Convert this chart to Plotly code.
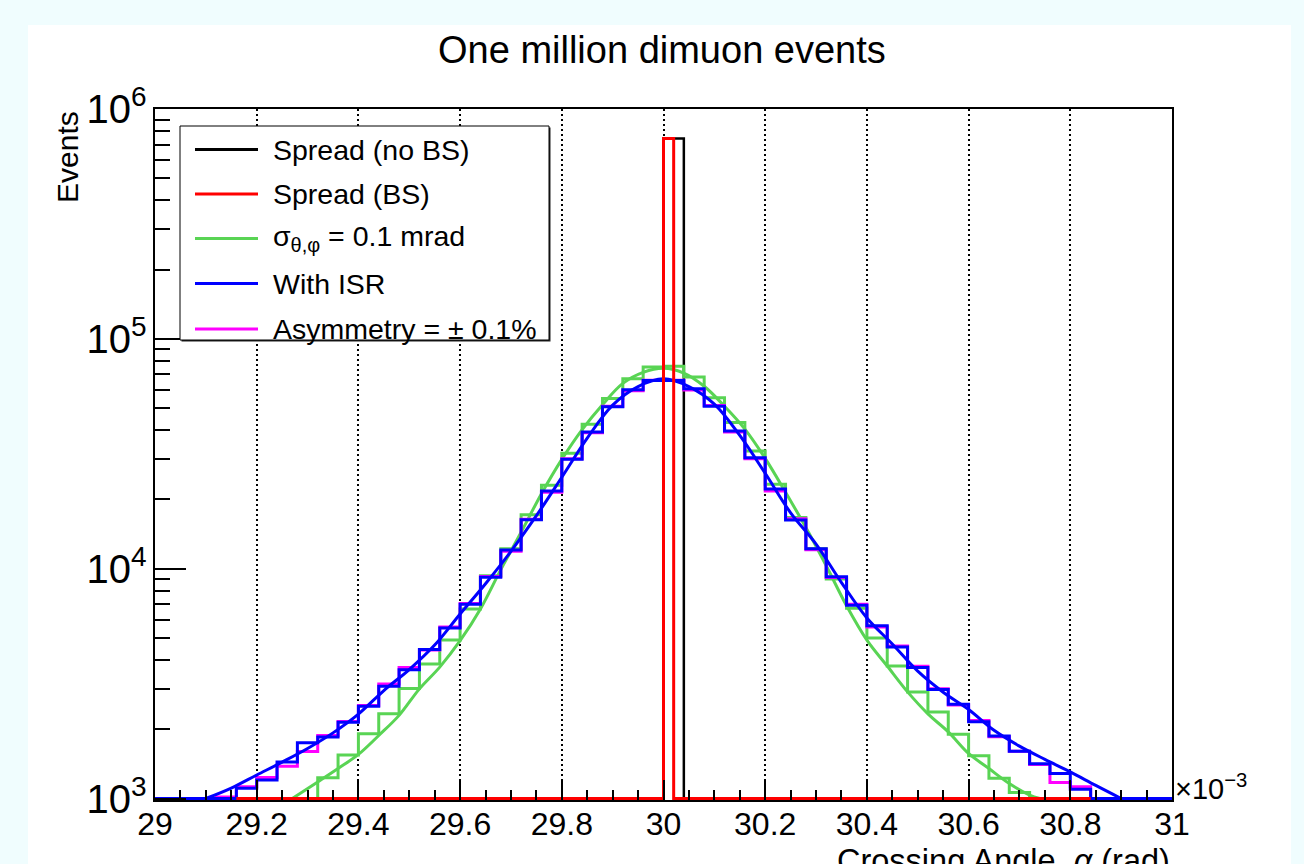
import plotly.graph_objects as go
import math

# ---------------- data ----------------
# 50 bins of 0.04 (x10^-3 rad) from 29.00 to 31.00
bin_edges = [round(29.0 + 0.04 * i, 2) for i in range(51)]

black_counts = [0] * 25 + [745000] + [0] * 24          # Spread (no BS)

# Spread (BS): finer 0.02 binning from 29.16 to 30.84
red_edges = [round(29.16 + 0.02 * i, 2) for i in range(85)]
red_counts = [0] * 42 + [745000] + [0] * 41

green_counts = [0, 0, 0, 0, 0, 0, 0, 0, 1230, 1545,
                1915, 2340, 3010, 3850, 4890, 6670, 9320, 12200, 17150, 23040,
                31800, 42500, 55000, 67000, 75400, 75900, 68300, 55400, 43200, 32500,
                23300, 16700, 12200, 9010, 6730, 4990, 3770, 2905, 2380, 1903,
                1533, 1224, 1061, 0, 0, 0, 0, 0, 0, 0]

blue_counts = [0, 0, 0, 0, 1107, 1205, 1440, 1750, 1850, 2145,
               2520, 3080, 3630, 4450, 5520, 7000, 9170, 12050, 16320, 21780,
               29900, 39300, 50600, 60100, 65900, 65900, 60600, 50900, 39700, 30400,
               22200, 16300, 12200, 9230, 6930, 5650, 4560, 3720, 2980, 2570,
               2155, 1872, 1605, 1416, 1285, 1097, 0, 0, 0, 0]

magenta_counts = [0, 0, 0, 1015, 1125, 1235, 1380, 1600, 1880, 2165,
                  2540, 3150, 3720, 4430, 5580, 7050, 9250, 11900, 16400, 21500,
                  30100, 39000, 50900, 59500, 66100, 66100, 59900, 51300, 39300, 30100,
                  21800, 16500, 12100, 9150, 7000, 5570, 4610, 3760, 3000, 2550,
                  2185, 1855, 1605, 1405, 1175, 1125, 0, 0, 0, 0]

# fitted curves
green_fit_x = [29.27, 29.32, 29.36, 29.40, 29.44, 29.48, 29.52, 29.56, 29.60, 29.64,
               29.68, 29.72, 29.76, 29.80, 29.84, 29.88, 29.92, 29.96, 30.00, 30.04,
               30.08, 30.12, 30.16, 30.20, 30.24, 30.28, 30.32, 30.36, 30.40, 30.44,
               30.48, 30.52, 30.56, 30.60, 30.64, 30.68, 30.72, 30.74]
green_fit_y = [1000, 1180, 1350, 1555, 1880, 2300, 3000, 3730, 4860, 6680,
               9900, 14400, 21200, 29900, 40300, 51700, 64000, 71500, 74500, 71000,
               62200, 50900, 40500, 30200, 21500, 15100, 10300, 6900, 4890, 3770,
               2910, 2335, 1950, 1570, 1350, 1162, 1035, 1000]

blue_fit_x = [29.10, 29.15, 29.20, 29.25, 29.30, 29.35, 29.40, 29.45, 29.50, 29.55,
              29.60, 29.65, 29.70, 29.75, 29.80, 29.85, 29.90, 29.95, 30.00, 30.05,
              30.10, 30.15, 30.20, 30.25, 30.30, 30.35, 30.40, 30.45, 30.50, 30.55,
              30.60, 30.65, 30.70, 30.75, 30.80, 30.85, 30.90]
blue_fit_y = [1000, 1110, 1265, 1440, 1650, 1930, 2330, 2950, 3640, 4650,
              6350, 8600, 11900, 17000, 25000, 37000, 51500, 62000, 67000, 62000,
              52000, 38000, 26000, 17500, 12800, 8700, 6100, 4700, 3580, 2900,
              2440, 1980, 1690, 1480, 1305, 1140, 1000]

legend_labels = ["Spread (no BS)", "Spread (BS)", "σ<sub>θ,φ</sub> = 0.1 mrad",
                 "With ISR", "Asymmetry = ± 0.1%"]
x_ticks = [29.0, 29.2, 29.4, 29.6, 29.8, 30.0, 30.2, 30.4, 30.6, 30.8, 31.0]

# ---------------- styling ----------------
Y_MIN = 1000
FONT = "Liberation Sans, Arial, Helvetica, sans-serif"
C_BLACK, C_RED, C_GREEN, C_BLUE, C_MAG = "#000000", "#ff0000", "#59d454", "#0000ff", "#ff00ff"

W_FIG, H_FIG = 1304, 864
ML, MR, MT, MB = 155, 132, 109, 64
PW, PH = W_FIG - ML - MR, H_FIG - MT - MB


def pxx(px):
    return (px - ML) / PW


def pxy(py):
    return (H_FIG - MB - py) / PH


def steps(edges, counts):
    y = [max(c, Y_MIN) for c in counts]
    return list(edges), y + [y[-1]]


fig = go.Figure()


def add_hist(edges, counts, color, width):
    x, y = steps(edges, counts)
    fig.add_trace(go.Scatter(x=x, y=y, mode="lines", line=dict(color=color, width=width, shape="hv"),
                             showlegend=False, hoverinfo="skip"))


add_hist(bin_edges, black_counts, C_BLACK, 2.5)
add_hist(bin_edges, green_counts, C_GREEN, 3)
fig.add_trace(go.Scatter(x=green_fit_x, y=green_fit_y, mode="lines",
                         line=dict(color=C_GREEN, width=3, shape="spline", smoothing=1),
                         showlegend=False, hoverinfo="skip"))
add_hist(bin_edges, magenta_counts, C_MAG, 3)
add_hist(bin_edges, blue_counts, C_BLUE, 3)
fig.add_trace(go.Scatter(x=blue_fit_x, y=blue_fit_y, mode="lines",
                         line=dict(color=C_BLUE, width=3, shape="spline", smoothing=1),
                         showlegend=False, hoverinfo="skip"))
add_hist(red_edges, red_counts, C_RED, 3)

shapes = []
# white canvas panel
shapes.append(dict(type="rect", xref="paper", yref="paper", layer="below",
                   x0=pxx(28), x1=pxx(1291), y0=pxy(900), y1=pxy(25),
                   fillcolor="white", line=dict(width=0)))
# legend box (shadow + box)
shapes.append(dict(type="rect", xref="paper", yref="paper", layer="above",
                   x0=pxx(181.5), x1=pxx(550.5), y0=pxy(341.5), y1=pxy(127.5),
                   fillcolor="#222222", line=dict(width=0)))
shapes.append(dict(type="rect", xref="paper", yref="paper", layer="above",
                   x0=pxx(180), x1=pxx(549), y0=pxy(340), y1=pxy(126),
                   fillcolor="white", line=dict(color="black", width=1)))
legend_colors = [C_BLACK, C_RED, C_GREEN, C_BLUE, C_MAG]
legend_rows = [149.5, 194, 238.5, 283.5, 329]
annotations = []
for lab, col, ry in zip(legend_labels, legend_colors, legend_rows):
    shapes.append(dict(type="line", xref="paper", yref="paper", layer="above",
                       x0=pxx(195), x1=pxx(258), y0=pxy(ry), y1=pxy(ry),
                       line=dict(color=col, width=3)))
    annotations.append(dict(text=lab, xref="paper", yref="paper", x=pxx(271), y=pxy(ry),
                            xanchor="left", yanchor="middle", showarrow=False,
                            font=dict(size=28.5, color="black", family=FONT)))

# title
annotations.append(dict(text="One million dimuon events", xref="paper", yref="paper",
                        x=pxx(662), y=pxy(50), xanchor="center", yanchor="middle", showarrow=False,
                        font=dict(size=38, color="black", family=FONT)))
# axis titles
annotations.append(dict(text="Events", xref="paper", yref="paper", x=pxx(67), y=1.0,
                        xanchor="center", yanchor="top", textangle=-90, showarrow=False,
                        font=dict(size=30, color="black", family=FONT)))
annotations.append(dict(text="Crossing Angle, <i>α</i> (rad)", xref="paper", yref="paper",
                        x=1.0, y=pxy(841), xanchor="right", yanchor="top", showarrow=False,
                        font=dict(size=32.5, color="black", family=FONT)))
annotations.append(dict(text="×10<sup>−3</sup>", xref="paper", yref="paper",
                        x=pxx(1173), y=pxy(787), xanchor="left", yanchor="middle", showarrow=False,
                        font=dict(size=29, color="black", family=FONT)))

fig.update_layout(
    width=W_FIG, height=H_FIG,
    margin=dict(l=ML, r=MR, t=MT, b=MB, pad=0),
    paper_bgcolor="#f0fdfe", plot_bgcolor="white",
    shapes=shapes, annotations=annotations, showlegend=False,
    font=dict(family=FONT, color="black"),
)
fig.update_xaxes(
    range=[29, 31], tickmode="array", tickvals=x_ticks,
    ticktext=[("%g" % v) for v in x_ticks],
    ticks="inside", ticklen=20, tickwidth=1.5, tickcolor="black",
    showline=True, linecolor="black", linewidth=2, mirror=True,
    showgrid=True, gridcolor="black", gridwidth=1.6, griddash="1.6px,3.4px",
    minor=dict(ticks="inside", ticklen=10, tickwidth=1.5, tickcolor="black",
               dtick=0.05, tick0=29, showgrid=False),
    tickfont=dict(size=32, family=FONT, color="black"), zeroline=False,
    ticklabelstandoff=-5,
)
fig.update_yaxes(
    type="log", range=[math.log10(Y_MIN) - 0.0065, 6], dtick=1,
    exponentformat="power",
    ticks="inside", ticklen=31, tickwidth=1.5, tickcolor="black",
    showline=True, linecolor="black", linewidth=2, mirror=True,
    showgrid=False,
    minor=dict(ticks="inside", ticklen=15, tickwidth=1.5, tickcolor="black", dtick="D1", showgrid=False),
    tickfont=dict(size=32, family=FONT, color="black"), zeroline=False,
)

fig.write_html("out.html")
